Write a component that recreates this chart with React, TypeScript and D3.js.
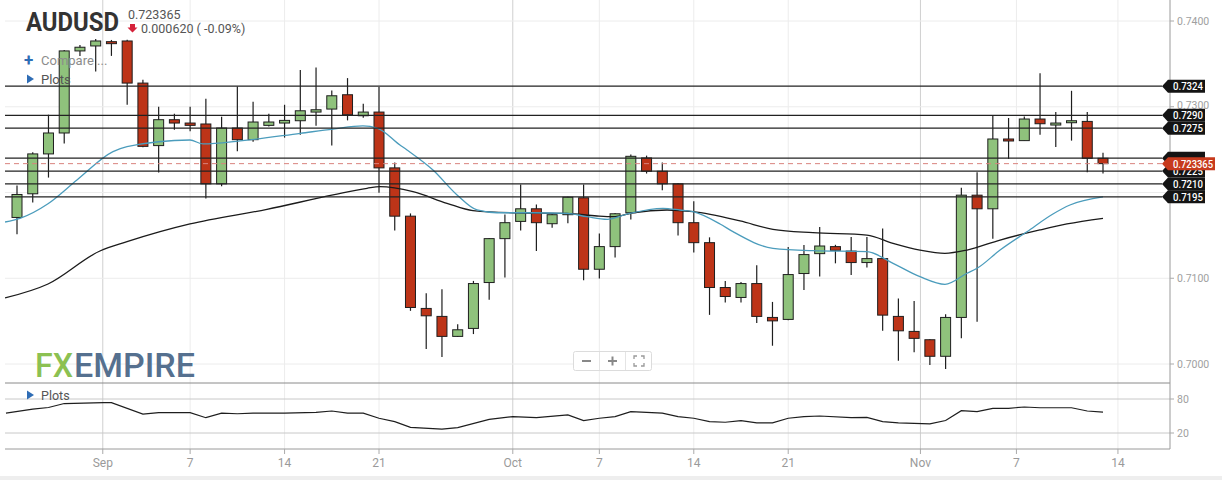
import React from "react";
import * as d3 from "d3";

// ---------- DATA ----------
const opens = [
  0.71709, 0.71985, 0.7245, 0.72694, 0.73651, 0.73709, 0.73759, 0.73767, 0.73276, 0.72547,
  0.72849, 0.7281, 0.72799, 0.72101, 0.72752, 0.72616, 0.72783, 0.7281, 0.72837, 0.72938,
  0.72973, 0.7314, 0.72895, 0.72938, 0.72287, 0.71724, 0.70648, 0.70555, 0.70322, 0.70415,
  0.7095, 0.71462, 0.71663, 0.7181, 0.71636, 0.71741, 0.71938, 0.71105, 0.71369, 0.71764,
  0.72403, 0.72248, 0.72101, 0.71648, 0.71415, 0.70892, 0.70776, 0.70938, 0.70543, 0.7052,
  0.71055, 0.71287, 0.71369, 0.71317, 0.71183, 0.71229, 0.70555, 0.7038, 0.70283, 0.7009,
  0.70543, 0.71969, 0.7181, 0.72624, 0.72605, 0.72857, 0.72787, 0.72814, 0.72829, 0.72399,
];
const highs = [
  0.72081, 0.7247, 0.72907, 0.73663, 0.73721, 0.7379, 0.73779, 0.7378, 0.73314, 0.73,
  0.72919, 0.73, 0.73093, 0.72884, 0.73236, 0.73058, 0.72919, 0.73023, 0.7343, 0.73457,
  0.7319, 0.73334, 0.73035, 0.73229, 0.72349, 0.71756, 0.70826, 0.70872, 0.70465, 0.70969,
  0.7147, 0.71744, 0.72093, 0.7186, 0.7175, 0.7195, 0.72093, 0.71523, 0.7176, 0.72442,
  0.7243, 0.72349, 0.7211, 0.71899, 0.71477, 0.70969, 0.70957, 0.71151, 0.70724, 0.71364,
  0.71387, 0.71597, 0.7139, 0.7148, 0.7148, 0.71581, 0.70764, 0.70736, 0.7029, 0.70581,
  0.72055, 0.72236, 0.72895, 0.72869, 0.72887, 0.73392, 0.72938, 0.73186, 0.72938, 0.72465,
];
const lows = [
  0.71512, 0.71884, 0.72174, 0.7257, 0.73593, 0.7341, 0.73593, 0.73023, 0.72527, 0.72233,
  0.72733, 0.72713, 0.7193, 0.72073, 0.7248, 0.72593, 0.7277, 0.7264, 0.72674, 0.72779,
  0.72547, 0.72841, 0.72872, 0.71997, 0.71558, 0.7062, 0.70174, 0.70081, 0.70314, 0.70349,
  0.70748, 0.71008, 0.71558, 0.71317, 0.7159, 0.7164, 0.70977, 0.70997, 0.71241, 0.71686,
  0.72221, 0.72027, 0.715, 0.71299, 0.70573, 0.70717, 0.70717, 0.70477, 0.70213, 0.7051,
  0.70864, 0.7102, 0.71174, 0.71038, 0.71124, 0.70387, 0.70038, 0.70136, 0.69988, 0.69942,
  0.70299, 0.70492, 0.71462, 0.72392, 0.72605, 0.72674, 0.72531, 0.72605, 0.72236, 0.72221,
];
const closes = [
  0.71977, 0.7245, 0.72694, 0.73651, 0.73694, 0.73767, 0.73741, 0.73276, 0.72538, 0.72849,
  0.7281, 0.72783, 0.72101, 0.72752, 0.72616, 0.72822, 0.72822, 0.72841, 0.72953, 0.72965,
  0.73128, 0.72907, 0.72938, 0.72287, 0.71724, 0.70659, 0.70562, 0.70322, 0.70399, 0.70938,
  0.71462, 0.71648, 0.7181, 0.71648, 0.71741, 0.71945, 0.71105, 0.71369, 0.71752, 0.72422,
  0.72248, 0.72101, 0.71648, 0.71415, 0.70892, 0.70787, 0.70938, 0.70555, 0.70503, 0.71043,
  0.71276, 0.71376, 0.71326, 0.71183, 0.71229, 0.7057, 0.70387, 0.70299, 0.7009, 0.70543,
  0.71969, 0.7181, 0.72624, 0.72605, 0.72857, 0.72802, 0.7281, 0.72837, 0.72399, 0.723365,
];

// moving averages: [candle index, price]
const fastMA: [number, number][] = [
  [-0.76, 0.71656], [0.19, 0.71699], [1.97, 0.71869], [3.81, 0.72146], [6.1, 0.72476],
  [6.99, 0.72534], [10.99, 0.72612], [11.82, 0.72566], [14.17, 0.72601], [18.0, 0.7269],
  [20.08, 0.7274], [21.98, 0.72776], [22.88, 0.72752], [24.33, 0.72554], [24.78, 0.72496],
  [26.43, 0.72262], [27.96, 0.71971], [29.23, 0.71796], [30.5, 0.71764], [32.6, 0.71764],
  [34.94, 0.71757], [36.2, 0.71718], [37.5, 0.71687], [38.76, 0.71749], [41.04, 0.71816],
  [42.12, 0.71796], [42.95, 0.71776], [44.67, 0.71633], [45.49, 0.71543], [48.03, 0.71349],
  [50.57, 0.71321], [54.0, 0.7131], [55.66, 0.71174], [57.37, 0.71018], [58.96, 0.70929],
  [60.36, 0.71058], [61.0, 0.71116], [62.46, 0.71329], [64.17, 0.71543], [65.82, 0.71749],
  [66.9, 0.71854], [69, 0.71948],
];
const slowMA: [number, number][] = [
  [-0.76, 0.7077], [1.97, 0.70933], [5.27, 0.71318], [6.99, 0.71426], [9.09, 0.71543],
  [10.99, 0.71633], [15.88, 0.71804], [20.08, 0.71971], [22.24, 0.72049], [23.06, 0.72068],
  [25.16, 0.72009], [27.32, 0.71874], [28.97, 0.71788], [31.51, 0.71764], [34.94, 0.71757],
  [36.85, 0.71726], [37.87, 0.71718], [39.14, 0.71764], [41.3, 0.71796], [42.95, 0.71776],
  [45.94, 0.71668], [48.03, 0.71571], [50.57, 0.71531], [54.0, 0.71504], [55.66, 0.71408],
  [57.37, 0.71329], [58.96, 0.71291], [60.36, 0.71329], [62.46, 0.71446], [64.99, 0.71563],
  [66.71, 0.71633], [69, 0.71699],
];

// oscillator (lower panel): [candle index, value]
const oscillator: [number, number][] = [
  [-0.7, 55], [1, 62], [2, 65], [3, 72], [5.5, 73.5], [6, 73.5], [8, 53.5], [9, 56], [11, 56],
  [12, 47], [13, 55], [14, 54], [15, 55], [17, 55], [19, 56.5], [20, 58.8], [21, 55], [22, 55],
  [23, 46], [24, 40], [25, 30], [27, 27], [28, 29.5], [30, 44], [31.5, 49], [33, 47], [35, 52],
  [36, 42], [37, 46], [38, 49], [39, 57.6], [41, 55], [42, 49], [43, 46], [44, 40], [45, 39],
  [46, 42], [47, 38], [48, 38], [49, 46], [50, 49], [51, 50], [53, 47], [54, 47.5], [55, 40],
  [56, 38], [58, 36], [59, 42], [60, 59.4], [61, 57.6], [62, 63.6], [63, 63.6], [64, 65.9],
  [65, 64.6], [67, 64.6], [68, 58.8], [69, 57],
];

const levels = [0.7324, 0.729, 0.7275, 0.724, 0.7225, 0.721, 0.7195];
const labelledLevels = [0.7324, 0.729, 0.7275, 0.7225, 0.721, 0.7195];
const priceTicks = [0.7, 0.71, 0.72, 0.73, 0.74];
const labelledPriceTicks = [0.7, 0.71, 0.73, 0.74];
const oscTicks = [80, 20];
const dateTickLabels = ["Sep", "7", "14", "21", "Oct", "7", "14", "21", "Nov", "7", "14"];
const dateTickIndex = [5.45, 11, 17, 23, 31.5, 37, 43, 49, 57.4, 63.5, 69.95];
const monthTicks = ["Sep", "Oct", "Nov"];
const currentPrice = 0.723365;

// ---------- CHART ----------
const FONT = "Roboto, 'Open Sans', sans-serif";

export default function App() {
  const x = d3.scaleLinear().domain([0, 69]).range([17, 1103]);
  const y = d3.scaleLinear().domain([0.7, 0.74]).range([364, 21]);
  const oy = d3.scaleLinear().domain([20, 80]).range([433, 399]);

  const left = 5;
  const axisX = 1170;
  const mainBottom = 383;
  const lowBottom = 449;

  const maLine = d3
    .line<[number, number]>()
    .x((d) => x(d[0]))
    .y((d) => y(d[1]))
    .curve(d3.curveMonotoneX);
  const oscLine = d3
    .line<[number, number]>()
    .x((d) => x(d[0]))
    .y((d) => oy(d[1]))
    .curve(d3.curveLinear);

  const green = "#8fc27c";
  const red = "#bd3418";
  const outline = "#1e1e1e";

  const labelPath = (yy: number, right: number) =>
    `M1162,${yy} L1168,${yy - 6.5} L${right},${yy - 6.5} L${right},${yy + 6.5} L1168,${yy + 6.5} Z`;

  return (
    <svg
      width={1222}
      height={480}
      style={{ position: "absolute", left: 0, top: 0, background: "#fff" }}
      fontFamily={FONT}
    >
      <defs>
        <clipPath id="plot">
          <rect x={left} y={0} width={axisX - left} height={mainBottom - 1} />
        </clipPath>
      </defs>
      <rect x={0} y={0} width={1222} height={480} fill="#fff" />
      <rect x={0} y={476} width={1222} height={4} fill="#eeeeee" />

      {/* vertical date gridlines */}
      {dateTickIndex.map((t, i) => (
        <line
          key={"vg" + i}
          x1={x(t)}
          x2={x(t)}
          y1={0}
          y2={lowBottom}
          stroke={monthTicks.includes(dateTickLabels[i]) ? "#cfcfcf" : "#ececec"}
          strokeWidth={1}
        />
      ))}
      {/* horizontal price gridlines */}
      {priceTicks.map((p) => (
        <line key={"hg" + p} x1={left} x2={axisX} y1={y(p)} y2={y(p)} stroke="#ececec" />
      ))}

      {/* candles */}
      <g clipPath="url(#plot)">
        {opens.map((o, i) => {
          const c = closes[i];
          const up = c >= o;
          const top = y(Math.max(o, c));
          const bot = y(Math.min(o, c));
          const cx = x(i);
          return (
            <g key={"c" + i}>
              <line x1={cx} x2={cx} y1={y(highs[i])} y2={y(lows[i])} stroke={outline} strokeWidth={1.2} />
              <rect
                x={cx - 5}
                y={top}
                width={10}
                height={Math.max(2, bot - top)}
                fill={up ? green : red}
                stroke={outline}
                strokeWidth={1}
              />
            </g>
          );
        })}
        <path d={maLine(slowMA) || ""} fill="none" stroke="#1b1b1b" strokeWidth={1.3} />
        <path d={maLine(fastMA) || ""} fill="none" stroke="#4b9cbc" strokeWidth={1.3} />
      </g>

      {/* horizontal levels */}
      {levels.map((p) => (
        <line key={"lv" + p} x1={left} x2={1162} y1={y(p)} y2={y(p)} stroke="#222" strokeWidth={1.3} />
      ))}
      <line
        x1={left}
        x2={1162}
        y1={y(currentPrice)}
        y2={y(currentPrice)}
        stroke="#d9837d"
        strokeWidth={1}
        strokeDasharray="5,4"
      />

      {/* panel borders */}
      <line x1={left} x2={axisX} y1={mainBottom} y2={mainBottom} stroke="#8a8a8a" />
      <line x1={left} x2={axisX} y1={lowBottom} y2={lowBottom} stroke="#9a9a9a" />
      {oscTicks.map((v) => (
        <line key={"og" + v} x1={left} x2={axisX} y1={oy(v)} y2={oy(v)} stroke="#c8c8c8" />
      ))}
      <line x1={axisX} x2={axisX} y1={0} y2={lowBottom} stroke="#9a9a9a" />

      {/* oscillator */}
      <path d={oscLine(oscillator) || ""} fill="none" stroke="#1e1e1e" strokeWidth={1.2} />

      {/* right axis labels */}
      {priceTicks.map((p) => (
        <line key={"pt" + p} x1={axisX} x2={axisX + 4} y1={y(p)} y2={y(p)} stroke="#aaa" />
      ))}
      {labelledPriceTicks.map((p) => (
        <text key={"pl" + p} x={1177} y={y(p) + (p === 0.73 ? 2 : 4)} fontSize={10.5} fill="#a0a0a0">
          {p.toFixed(4)}
        </text>
      ))}
      {oscTicks.map((v) => (
        <g key={"ol" + v}>
          <line x1={axisX} x2={axisX + 4} y1={oy(v)} y2={oy(v)} stroke="#aaa" />
          <text x={1177} y={oy(v) + 4} fontSize={10.5} fill="#a0a0a0">
            {v}
          </text>
        </g>
      ))}

      {/* level labels */}
      {levels.map((p) => (
        <path key={"lb" + p} d={labelPath(y(p), 1205)} fill="#141414" />
      ))}
      {labelledLevels.map((p) => (
        <text
          key={"ll" + p}
          x={1173}
          y={y(p) + 4}
          fontSize={11}
          fontWeight={500}
          fill="#fff"
          textLength={30}
          lengthAdjust="spacingAndGlyphs"
        >
          {p.toFixed(4)}
        </text>
      ))}
      <path d={labelPath(y(currentPrice), 1215)} fill="#c73a1d" />
      <text
        x={1173}
        y={y(currentPrice) + 4}
        fontSize={11}
        fontWeight={500}
        fill="#fff"
        textLength={40}
        lengthAdjust="spacingAndGlyphs"
      >
        {currentPrice.toFixed(6)}
      </text>

      {/* date axis */}
      {dateTickIndex.map((t, i) => (
        <g key={"dt" + i}>
          <line x1={x(t)} x2={x(t)} y1={lowBottom} y2={lowBottom + 5} stroke="#aaa" />
          <text x={x(t)} y={467} fontSize={12} fill="#9a9a9a" textAnchor="middle">
            {dateTickLabels[i]}
          </text>
        </g>
      ))}

      {/* header */}
      <text x={26} y={31} fontSize={26} fontWeight={700} fill="#333" textLength={93} lengthAdjust="spacingAndGlyphs">
        AUDUSD
      </text>
      <text x={128} y={19} fontSize={12.5} fill="#555">
        0.723365
      </text>
      <path d="M130,24 L135,24 L135,27.5 L137.5,27.5 L132.5,32.5 L127.5,27.5 L130,27.5 Z" fill="#d5213a" />
      <text x={141} y={32.5} fontSize={12.5} fill="#555">
        0.000620 ( -0.09%)
      </text>

      {/* legend */}
      <text x={24} y={66} fontSize={17} fontWeight={700} fill="#2f6db5">
        +
      </text>
      <text x={41} y={65} fontSize={13} fill="#8c8c8c">
        Compare ...
      </text>
      <path d="M27,74.5 L34,79 L27,83.5 Z" fill="#2f6db5" />
      <text x={41} y={84} fontSize={13} fill="#555">
        Plots
      </text>
      <path d="M27,390.5 L34,395 L27,399.5 Z" fill="#2f6db5" />
      <text x={41} y={400} fontSize={12.5} fill="#555">
        Plots
      </text>

      {/* logo */}
      <text x={35} y={377} fontSize={33} fontWeight={500} fill="#8cc152" textLength={38} lengthAdjust="spacingAndGlyphs">
        FX
      </text>
      <text x={74} y={377} fontSize={33} fontWeight={500} fill="#55708f" textLength={121} lengthAdjust="spacingAndGlyphs">
        EMPIRE
      </text>

      {/* zoom controls */}
      <g>
        <rect x={573.5} y={351.5} width={78} height={19} rx={2} fill="#fff" stroke="#dcdcdc" />
        <line x1={599.5} x2={599.5} y1={352} y2={370} stroke="#e4e4e4" />
        <line x1={625.5} x2={625.5} y1={352} y2={370} stroke="#e4e4e4" />
        <line x1={582} x2={591} y1={361} y2={361} stroke="#888" strokeWidth={2} />
        <line x1={608} x2={617} y1={361} y2={361} stroke="#888" strokeWidth={2} />
        <line x1={612.5} x2={612.5} y1={356.5} y2={365.5} stroke="#888" strokeWidth={2} />
        <path
          d="M634,359 V356 H637 M641,356 H644 V359 M644,363 V366 H641 M637,366 H634 V363"
          fill="none"
          stroke="#999"
          strokeWidth={1.3}
        />
      </g>
    </svg>
  );
}
